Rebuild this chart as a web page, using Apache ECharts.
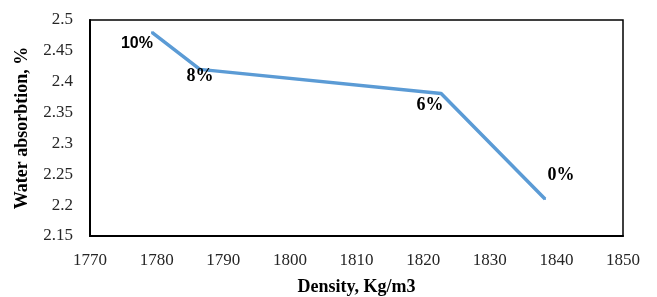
<!DOCTYPE html>
<html><head><meta charset="utf-8">
<script src="https://cdn.jsdelivr.net/npm/echarts@6/dist/echarts.min.js"></script>
<style>html,body{margin:0;padding:0;background:#fff}#c{width:657px;height:297px}</style>
</head><body><div id="c"></div>
<script>
const densities = [1779.3, 1786.5, 1822.7, 1838.3];
const absorption = [2.48, 2.42, 2.381, 2.21];
const pointLabels = ['10%', '8%', '6%', '0%'];
const xTicks = [1770, 1780, 1790, 1800, 1810, 1820, 1830, 1840, 1850];
const yTicks = [2.15, 2.2, 2.25, 2.3, 2.35, 2.4, 2.45, 2.5];

const labelStyles = [
  {offset: [-15, 11], fontFamily: 'Liberation Sans', fontSize: 16},
  {offset: [0, 7], fontFamily: 'Liberation Serif', fontSize: 18},
  {offset: [-11, 12], fontFamily: 'Liberation Serif', fontSize: 18},
  {offset: [16, -24], fontFamily: 'Liberation Serif', fontSize: 18}
];

const chart = echarts.init(document.getElementById('c'), null, {renderer: 'canvas'});
chart.setOption({
  animation: false,
  backgroundColor: '#fff',
  grid: {left: 90, top: 20, right: 34, bottom: 61, show: true, borderColor: '#000', borderWidth: 1.5,
    backgroundColor: 'transparent', containLabel: false, outerBoundsMode: 'none'},
  xAxis: {
    type: 'value', min: xTicks[0], max: xTicks[xTicks.length - 1], interval: 10,
    name: 'Density, Kg/m3', nameLocation: 'middle', nameGap: 42,
    nameTextStyle: {fontFamily: 'Liberation Serif', fontWeight: 'bold', fontSize: 18, color: '#000'},
    axisLine: {show: true, lineStyle: {color: '#000', width: 2}},
    axisTick: {show: false},
    splitLine: {show: false},
    axisLabel: {fontFamily: 'Liberation Serif', fontSize: 17, color: '#262626', margin: 16,
      formatter: v => String(v)}
  },
  yAxis: {
    type: 'value', min: yTicks[0], max: yTicks[yTicks.length - 1], interval: 0.05,
    name: 'Water absorbtion, %', nameLocation: 'middle', nameGap: 59, nameRotate: 90,
    nameTextStyle: {fontFamily: 'Liberation Serif', fontWeight: 'bold', fontSize: 18, color: '#000'},
    axisLine: {show: true, lineStyle: {color: '#000', width: 2}},
    axisTick: {show: false},
    splitLine: {show: false},
    axisLabel: {fontFamily: 'Liberation Serif', fontSize: 17, color: '#262626', margin: 17,
      formatter: v => String(Math.round(v * 100) / 100)}
  },
  series: [{
    type: 'line',
    data: densities.map((x, i) => ({
      value: [x, absorption[i]],
      label: Object.assign({show: true, position: 'inside', align: 'center', verticalAlign: 'middle',
        formatter: pointLabels[i], fontWeight: 'bold', color: '#000'}, labelStyles[i])
    })),
    showSymbol: true, symbol: 'circle', symbolSize: 2,
    lineStyle: {color: '#5b9bd5', width: 3.5},
    itemStyle: {color: '#5b9bd5'}
  }]
});
</script></body></html>
